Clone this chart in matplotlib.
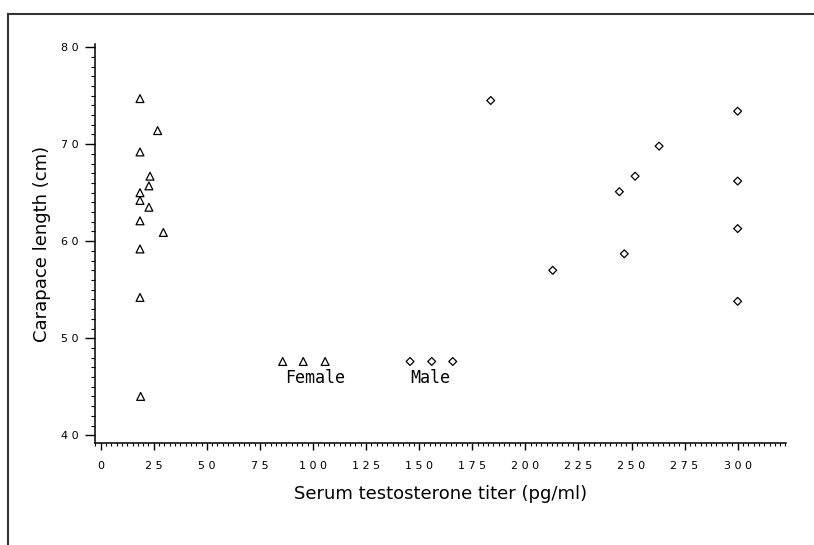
import matplotlib
matplotlib.use("Agg")
import matplotlib.pyplot as plt
from matplotlib.lines import Line2D
from matplotlib.ticker import MultipleLocator, FixedLocator

# female: testosterone titer (pg/ml) vs carapace length (cm)
female_titer = [18.5, 26.8, 18.5, 23.2, 22.7, 18.5, 18.5, 22.7, 18.5, 29.5, 18.5, 18.5, 18.8]
female_length = [74.7, 71.4, 69.2, 66.7, 65.7, 65.0, 64.2, 63.5, 62.1, 60.9, 59.2, 54.2, 44.0]

male_titer = [183.7, 300, 263, 251.7, 300, 244.3, 300, 246.6, 212.9, 300]
male_length = [74.5, 73.4, 69.8, 66.7, 66.2, 65.1, 61.3, 58.7, 57.0, 53.8]

x_ticks = list(range(0, 301, 25))
y_ticks = [40, 50, 60, 70, 80]

# key drawn inside the plot (three markers above each label)
key_female_x = [85.7, 95.4, 105.7]
key_male_x = [145.7, 155.9, 165.8]
key_y = 47.6

fig = plt.figure(figsize=(8.14, 5.45), dpi=100)
ax = fig.add_axes([0.1167, 0.1872, 0.8495, 0.7316])

mk = dict(facecolor="none", edgecolor="black", linewidths=0.9)
ax.scatter(female_titer, female_length, marker="^", s=32, **mk)
ax.scatter(male_titer, male_length, marker="D", s=16, **mk)

ax.scatter(key_female_x, [key_y] * 3, marker="^", s=32, **mk)
ax.scatter(key_male_x, [key_y] * 3, marker="D", s=16, **mk)
ax.text(101, 45.9, "Female", ha="center", va="center",
        family="DejaVu Sans Mono", fontsize=12)
ax.text(155, 45.9, "Male", ha="center", va="center",
        family="DejaVu Sans Mono", fontsize=12)

ax.set_xlim(-2.7, 323)
ax.set_ylim(39.2, 80.3)

ax.xaxis.set_major_locator(FixedLocator(x_ticks))
ax.set_xticklabels([" ".join(str(t)) for t in x_ticks])
ax.xaxis.set_minor_locator(MultipleLocator(2.5))
ax.yaxis.set_major_locator(FixedLocator(y_ticks))
ax.set_yticklabels([" ".join(str(t)) for t in y_ticks])
ax.yaxis.set_minor_locator(MultipleLocator(1))

for s in ["top", "right"]:
    ax.spines[s].set_visible(False)
for s in ["left", "bottom"]:
    ax.spines[s].set_linewidth(1.1)

ax.tick_params(axis="x", which="major", length=5, width=1, pad=8, labelsize=8)
ax.tick_params(axis="x", which="minor", length=2, width=0.8)
ax.tick_params(axis="y", which="major", length=7, width=1, pad=5, labelsize=8)
ax.tick_params(axis="y", which="minor", length=3, width=0.8)

ax.set_xlabel("Serum testosterone titer (pg/ml)", fontsize=13, labelpad=10)
ax.set_ylabel("Carapace length (cm)", fontsize=13, labelpad=7)

# scanned page border
fig.add_artist(Line2D([8 / 814, 8 / 814], [0, 1 - 14 / 545], color="#333333", lw=1.5))
fig.add_artist(Line2D([8 / 814, 1], [1 - 14 / 545, 1 - 14 / 545], color="#333333", lw=1.5))

fig.savefig("out.png", dpi=100)
